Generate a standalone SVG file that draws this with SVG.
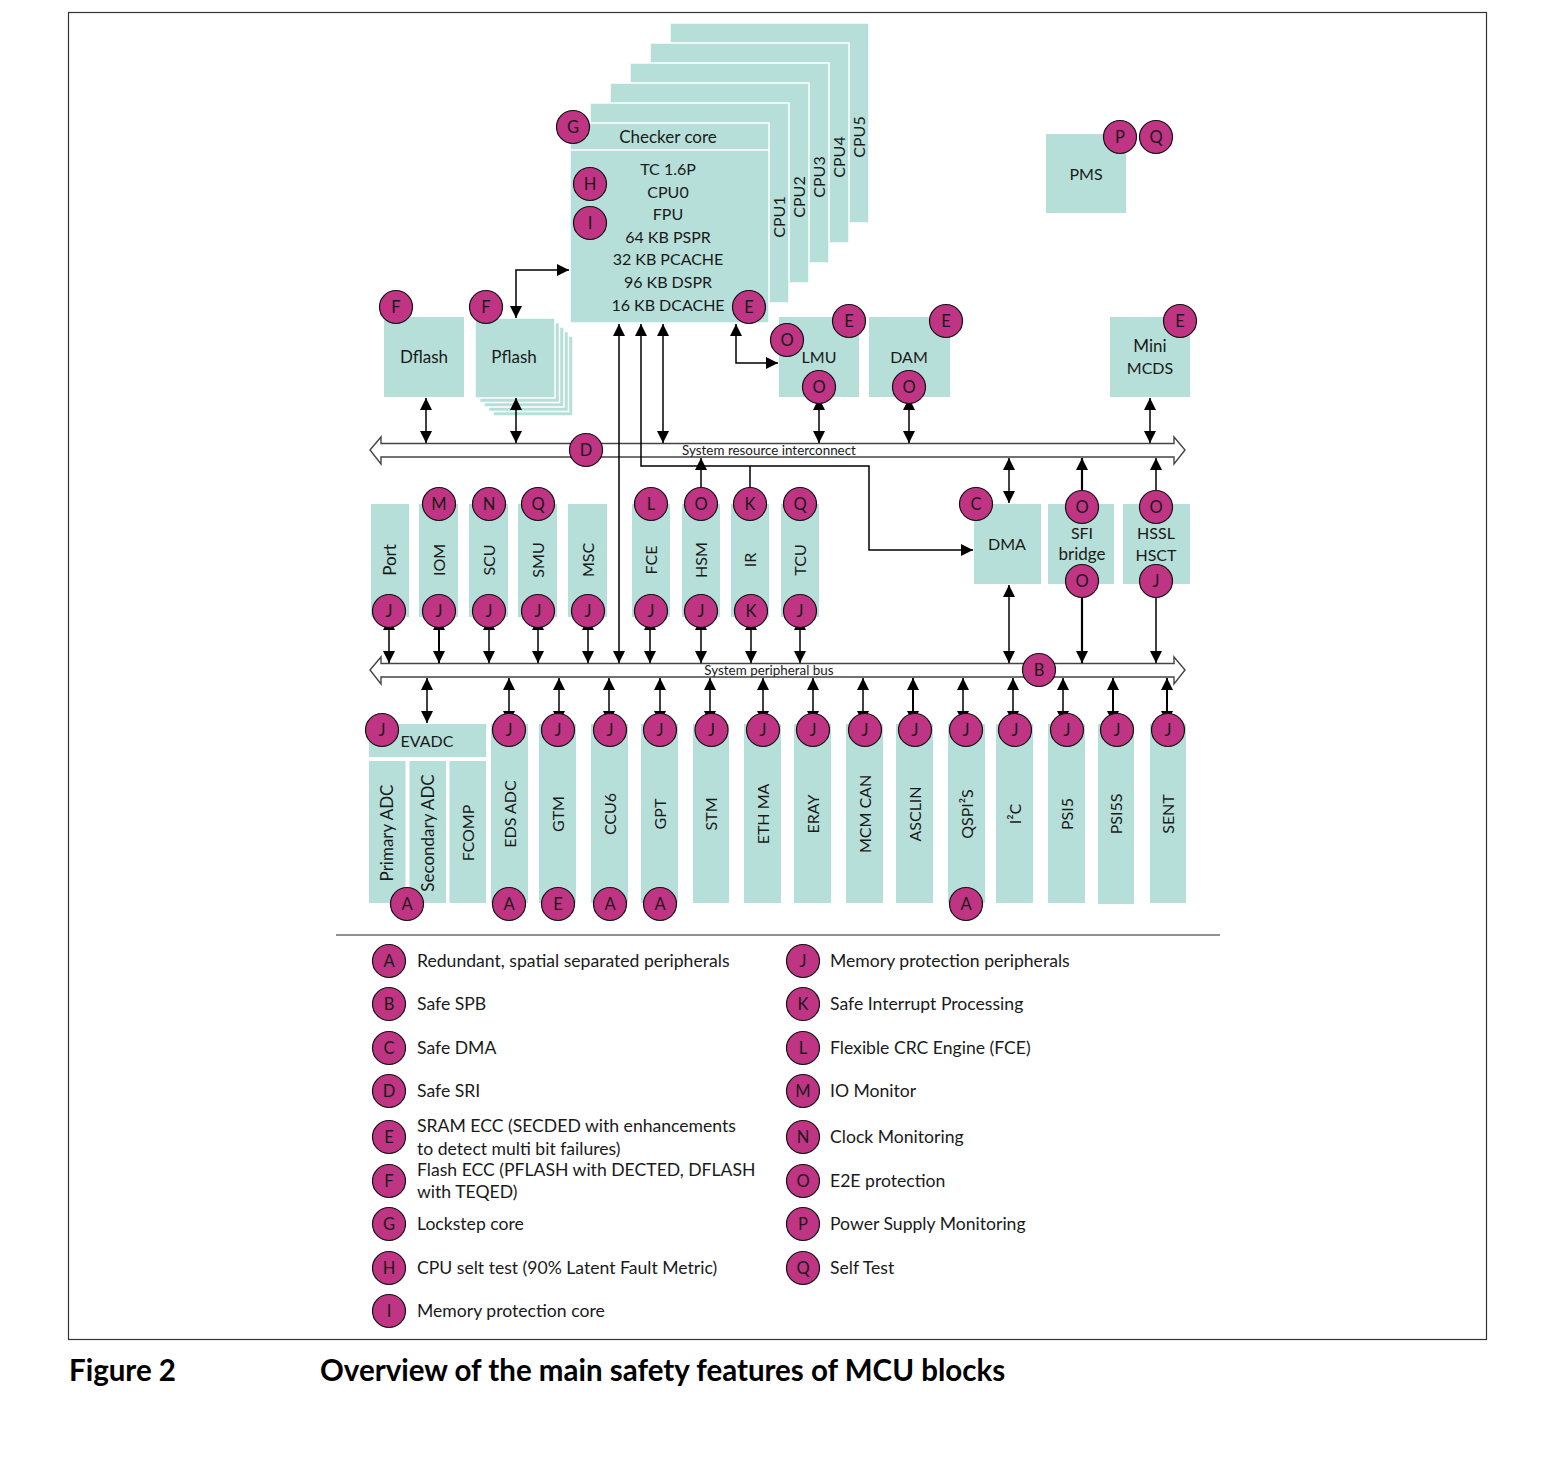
<svg xmlns="http://www.w3.org/2000/svg" width="1555" height="1474" viewBox="0 0 1555 1474">
<style>
text{font-family:Lato,"Open Sans","Liberation Sans",sans-serif;fill:#1a1a1a}
.t{font-size:16px;text-anchor:middle}
.m{font-size:17px}
.b{fill:#b6dfd9}
.bw{fill:#b6dfd9;stroke:#fff;stroke-width:1.5}
.c circle{fill:#bf3483;stroke:#111;stroke-width:1.2}
.c text{font-size:16.5px;text-anchor:middle}
.bus{fill:#fff;stroke:#444;stroke-width:1.4}
.bl{font-size:13.4px;text-anchor:middle}
.cn path{fill:none;stroke:#000;stroke-width:1.5}
.lg{font-size:17.6px}
.cap{font-size:29.5px;font-weight:bold;fill:#000}
</style>
<defs>
<marker id="a" viewBox="0 0 12 12" refX="12" refY="6" markerWidth="12" markerHeight="12" markerUnits="userSpaceOnUse" orient="auto-start-reverse"><path d="M0,0 L12,6 L0,12 z" fill="#000"/></marker>
</defs>
<rect x="68.5" y="12.5" width="1418" height="1327" fill="#fff" stroke="#333" stroke-width="1.2"/>

<!-- buses -->
<g id="sri">
<polygon class="bus" points="370,450 381,437 381,443.5 1174,443.5 1174,437 1185,450 1174,464 1174,457 381,457 381,464"/>
<text class="bl" x="769" y="455">System resource interconnect</text>
</g>
<g id="spb">
<polygon class="bus" points="370,670 381,657 381,663.5 1174,663.5 1174,657 1185,670 1174,684 1174,677 381,677 381,684"/>
<text class="bl" x="769" y="675">System peripheral bus</text>
</g>

<g id="pflash">
<rect class="bw" x="493" y="336" width="80" height="80"/>
<rect class="bw" x="488.5" y="331.5" width="80" height="80"/>
<rect class="bw" x="484" y="327" width="80" height="80"/>
<rect class="bw" x="479.5" y="322.5" width="80" height="80"/>
<rect class="bw" x="475" y="318" width="80" height="80"/>
<text class="t m" x="514" y="363">Pflash</text>
<g class="c"><circle cx="486" cy="307" r="16.5"/><text x="486" y="313">F</text></g>
</g>

<!-- connectors -->
<g id="connectors" class="cn">
<path d="M516,318 V270 H569" marker-start="url(#a)" marker-end="url(#a)"/>
<path d="M426,398 V443" marker-start="url(#a)" marker-end="url(#a)"/>
<path d="M516,398 V443" marker-start="url(#a)" marker-end="url(#a)"/>
<path d="M619,324 V663" marker-start="url(#a)" marker-end="url(#a)"/>
<path d="M641,324 V466 H869 V550 H973" marker-start="url(#a)" marker-end="url(#a)"/>
<path d="M663,324 V443" marker-start="url(#a)" marker-end="url(#a)"/>
<path d="M736,324 V363 H778" marker-start="url(#a)" marker-end="url(#a)"/>
<path d="M750,466 V490"/>
<path d="M701,490 V458" marker-end="url(#a)"/>
<path d="M819,398 V443" marker-start="url(#a)" marker-end="url(#a)"/>
<path d="M909,398 V443" marker-start="url(#a)" marker-end="url(#a)"/>
<path d="M1150,398 V443" marker-start="url(#a)" marker-end="url(#a)"/>
<path d="M1009,458 V503" marker-start="url(#a)" marker-end="url(#a)"/>
<path d="M1082,490 V458" marker-end="url(#a)" style="stroke-width:2.2"/>
<path d="M1156,490 V458" marker-end="url(#a)"/>
<path d="M1009,585 V663" marker-start="url(#a)" marker-end="url(#a)"/>
<path d="M1082,597 V663" marker-end="url(#a)" style="stroke-width:2.2"/>
<path d="M1156,597 V663" marker-end="url(#a)"/>
<path d="M389,618 V663" marker-start="url(#a)" marker-end="url(#a)"/>
<path d="M439,618 V663" marker-start="url(#a)" marker-end="url(#a)" style="stroke-width:2"/>
<path d="M489,618 V663" marker-start="url(#a)" marker-end="url(#a)"/>
<path d="M538,618 V663" marker-start="url(#a)" marker-end="url(#a)"/>
<path d="M588,618 V663" marker-start="url(#a)" marker-end="url(#a)"/>
<path d="M650,618 V663" marker-start="url(#a)" marker-end="url(#a)"/>
<path d="M701,618 V663" marker-start="url(#a)" marker-end="url(#a)"/>
<path d="M751,618 V663" marker-start="url(#a)" marker-end="url(#a)"/>
<path d="M800,618 V663" marker-start="url(#a)" marker-end="url(#a)"/>
<path d="M427,678 V723" marker-start="url(#a)" marker-end="url(#a)"/>
<path d="M509,678 V723" marker-start="url(#a)" marker-end="url(#a)"/>
<path d="M559,678 V723" marker-start="url(#a)" marker-end="url(#a)"/>
<path d="M609,678 V723" marker-start="url(#a)" marker-end="url(#a)"/>
<path d="M660,678 V723" marker-start="url(#a)" marker-end="url(#a)"/>
<path d="M710,678 V723" marker-start="url(#a)" marker-end="url(#a)"/>
<path d="M763,678 V723" marker-start="url(#a)" marker-end="url(#a)"/>
<path d="M813,678 V723" marker-start="url(#a)" marker-end="url(#a)"/>
<path d="M863,678 V723" marker-start="url(#a)" marker-end="url(#a)"/>
<path d="M913,678 V723" marker-start="url(#a)" marker-end="url(#a)" style="stroke-width:2"/>
<path d="M963,678 V723" marker-start="url(#a)" marker-end="url(#a)"/>
<path d="M1013,678 V723" marker-start="url(#a)" marker-end="url(#a)"/>
<path d="M1063,678 V723" marker-start="url(#a)" marker-end="url(#a)"/>
<path d="M1113,678 V723" marker-start="url(#a)" marker-end="url(#a)" style="stroke-width:2"/>
<path d="M1167,678 V723" marker-start="url(#a)" marker-end="url(#a)" style="stroke-width:2"/>
</g>

<!-- bus badges -->
<g class="c"><circle cx="586" cy="450" r="16.5"/><text x="586" y="456">D</text></g>
<g class="c"><circle cx="1039" cy="670" r="16.5"/><text x="1039" y="676">B</text></g>

<!-- CPU stack -->
<g id="cpu-stack">
<rect class="bw" x="670" y="23" width="199" height="200"/>
<text class="t" transform="translate(859,137) rotate(-90)" dy="6">CPU5</text>
<rect class="bw" x="650" y="43" width="199" height="200"/>
<text class="t" transform="translate(839,157) rotate(-90)" dy="6">CPU4</text>
<rect class="bw" x="630" y="63" width="199" height="200"/>
<text class="t" transform="translate(819,177) rotate(-90)" dy="6">CPU3</text>
<rect class="bw" x="610" y="83" width="199" height="200"/>
<text class="t" transform="translate(799,197) rotate(-90)" dy="6">CPU2</text>
<rect class="bw" x="590" y="103" width="199" height="200"/>
<text class="t" transform="translate(779,217) rotate(-90)" dy="6">CPU1</text>
<rect class="bw" x="570" y="123" width="199" height="200"/>
<line x1="570" y1="150" x2="769" y2="150" stroke="#fff" stroke-width="1.5"/>
<text class="t m" x="668" y="143">Checker core</text>
<text class="t" x="668" y="175">TC 1.6P</text>
<text class="t" x="668" y="198">CPU0</text>
<text class="t" x="668" y="220">FPU</text>
<text class="t" x="668" y="243">64 KB PSPR</text>
<text class="t" x="668" y="265">32 KB PCACHE</text>
<text class="t" x="668" y="288">96 KB DSPR</text>
<text class="t" x="668" y="311">16 KB DCACHE</text>
<g class="c"><circle cx="573" cy="127" r="16.5"/><text x="573" y="133">G</text></g>
<g class="c"><circle cx="590" cy="184" r="16.5"/><text x="590" y="190">H</text></g>
<g class="c"><circle cx="590" cy="223" r="16.5"/><text x="590" y="229">I</text></g>
<g class="c"><circle cx="749" cy="307" r="16.5"/><text x="749" y="313">E</text></g>
</g>

<g id="pms">
<rect class="b" x="1046" y="134" width="80" height="79"/>
<text class="t" x="1086" y="180">PMS</text>
<g class="c"><circle cx="1120" cy="137" r="16.5"/><text x="1120" y="143">P</text></g>
<g class="c"><circle cx="1156" cy="137" r="16.5"/><text x="1156" y="143">Q</text></g>
</g>

<g id="dflash">
<rect class="b" x="384" y="317" width="80" height="80"/>
<text class="t m" x="424" y="363">Dflash</text>
<g class="c"><circle cx="396" cy="307" r="16.5"/><text x="396" y="313">F</text></g>
</g>
<g id="lmu">
<rect class="b" x="779" y="317" width="80" height="80"/>
<text class="t" x="819" y="363">LMU</text>
<g class="c"><circle cx="849" cy="321" r="16.5"/><text x="849" y="327">E</text></g>
<g class="c"><circle cx="787" cy="340" r="16.5"/><text x="787" y="346">O</text></g>
<g class="c"><circle cx="819" cy="387" r="16.5"/><text x="819" y="393">O</text></g>
</g>
<g id="dam">
<rect class="b" x="869" y="317" width="81" height="80"/>
<text class="t" x="909" y="363">DAM</text>
<g class="c"><circle cx="946" cy="321" r="16.5"/><text x="946" y="327">E</text></g>
<g class="c"><circle cx="909" cy="387" r="16.5"/><text x="909" y="393">O</text></g>
</g>
<g id="mcds">
<rect class="b" x="1110" y="317" width="80" height="80"/>
<text class="t m" x="1150" y="352">Mini</text>
<text class="t" x="1150" y="374">MCDS</text>
<g class="c"><circle cx="1180" cy="321" r="16.5"/><text x="1180" y="327">E</text></g>
</g>

<!-- middle peripherals -->
<g id="port"><rect class="b" x="371" y="504" width="38" height="113"/>
<text class="t m" transform="translate(390,560) rotate(-90)" dy="6">Port</text>
<g class="c"><circle cx="389" cy="611" r="16.5"/><text x="389" y="617">J</text></g></g>
<g id="iom"><rect class="b" x="419" y="504" width="39" height="113"/>
<text class="t" transform="translate(438.5,560) rotate(-90)" dy="6">IOM</text>
<g class="c"><circle cx="439" cy="504" r="16.5"/><text x="439" y="510">M</text></g>
<g class="c"><circle cx="439" cy="611" r="16.5"/><text x="439" y="617">J</text></g></g>
<g id="scu"><rect class="b" x="469" y="504" width="39" height="113"/>
<text class="t" transform="translate(488.5,560) rotate(-90)" dy="6">SCU</text>
<g class="c"><circle cx="489" cy="504" r="16.5"/><text x="489" y="510">N</text></g>
<g class="c"><circle cx="489" cy="611" r="16.5"/><text x="489" y="617">J</text></g></g>
<g id="smu"><rect class="b" x="518" y="504" width="39" height="113"/>
<text class="t" transform="translate(537.5,560) rotate(-90)" dy="6">SMU</text>
<g class="c"><circle cx="538" cy="504" r="16.5"/><text x="538" y="510">Q</text></g>
<g class="c"><circle cx="538" cy="611" r="16.5"/><text x="538" y="617">J</text></g></g>
<g id="msc"><rect class="b" x="568" y="504" width="39" height="113"/>
<text class="t" transform="translate(587.5,560) rotate(-90)" dy="6">MSC</text>
<g class="c"><circle cx="588" cy="611" r="16.5"/><text x="588" y="617">J</text></g></g>
<g id="fce"><rect class="b" x="632" y="504" width="38" height="113"/>
<text class="t" transform="translate(651,560) rotate(-90)" dy="6">FCE</text>
<g class="c"><circle cx="651" cy="504" r="16.5"/><text x="651" y="510">L</text></g>
<g class="c"><circle cx="651" cy="611" r="16.5"/><text x="651" y="617">J</text></g></g>
<g id="hsm"><rect class="b" x="682" y="504" width="38" height="113"/>
<text class="t" transform="translate(701,560) rotate(-90)" dy="6">HSM</text>
<g class="c"><circle cx="701" cy="504" r="16.5"/><text x="701" y="510">O</text></g>
<g class="c"><circle cx="701" cy="611" r="16.5"/><text x="701" y="617">J</text></g></g>
<g id="ir"><rect class="b" x="731" y="504" width="38" height="113"/>
<text class="t" transform="translate(750,560) rotate(-90)" dy="6">IR</text>
<g class="c"><circle cx="750" cy="504" r="16.5"/><text x="750" y="510">K</text></g>
<g class="c"><circle cx="751" cy="611" r="16.5"/><text x="751" y="617">K</text></g></g>
<g id="tcu"><rect class="b" x="781" y="504" width="38" height="113"/>
<text class="t" transform="translate(800,560) rotate(-90)" dy="6">TCU</text>
<g class="c"><circle cx="800" cy="504" r="16.5"/><text x="800" y="510">Q</text></g>
<g class="c"><circle cx="800" cy="611" r="16.5"/><text x="800" y="617">J</text></g></g>

<g id="dma"><rect class="b" x="974" y="504" width="67" height="80"/>
<text class="t" x="1007" y="550">DMA</text>
<g class="c"><circle cx="976" cy="504" r="16.5"/><text x="976" y="510">C</text></g></g>
<g id="sfi"><rect class="b" x="1048" y="504" width="66" height="80"/>
<text class="t" x="1082" y="539">SFI</text>
<text class="t m" x="1082" y="560">bridge</text>
<g class="c"><circle cx="1082" cy="507" r="16.5"/><text x="1082" y="513">O</text></g>
<g class="c"><circle cx="1082" cy="581" r="16.5"/><text x="1082" y="587">O</text></g></g>
<g id="hssl"><rect class="b" x="1123" y="504" width="67" height="80"/>
<text class="t" x="1156" y="539">HSSL</text>
<text class="t" x="1156" y="561">HSCT</text>
<g class="c"><circle cx="1156" cy="507" r="16.5"/><text x="1156" y="513">O</text></g>
<g class="c"><circle cx="1156" cy="581" r="16.5"/><text x="1156" y="587">J</text></g></g>

<!-- bottom peripherals -->
<g id="evadc">
<rect class="b" x="369" y="724" width="117" height="33"/>
<text class="t" x="427" y="747">EVADC</text>
<rect class="b" x="369" y="761" width="36.5" height="142"/>
<rect class="b" x="409.5" y="761" width="36.5" height="142"/>
<rect class="b" x="449.5" y="761" width="36.5" height="142"/>
<text class="t m" transform="translate(387,833) rotate(-90)" dy="6">Primary ADC</text>
<text class="t m" transform="translate(428,833) rotate(-90)" dy="6">Secondary ADC</text>
<text class="t" transform="translate(467.5,833) rotate(-90)" dy="6">FCOMP</text>
<g class="c"><circle cx="382" cy="730" r="16.5"/><text x="382" y="736">J</text></g>
<g class="c"><circle cx="407" cy="904" r="16.5"/><text x="407" y="910">A</text></g>
</g>
<g id="edsadc"><rect class="b" x="491" y="724" width="37" height="179"/>
<text class="t" transform="translate(509.5,814) rotate(-90)" dy="6">EDS ADC</text>
<g class="c"><circle cx="509" cy="730" r="16.5"/><text x="509" y="736">J</text></g>
<g class="c"><circle cx="509" cy="904" r="16.5"/><text x="509" y="910">A</text></g></g>
<g id="gtm"><rect class="b" x="539" y="724" width="37" height="179"/>
<text class="t" transform="translate(557.5,814) rotate(-90)" dy="6">GTM</text>
<g class="c"><circle cx="558" cy="730" r="16.5"/><text x="558" y="736">J</text></g>
<g class="c"><circle cx="558" cy="904" r="16.5"/><text x="558" y="910">E</text></g></g>
<g id="ccu6"><rect class="b" x="591" y="724" width="37" height="179"/>
<text class="t" transform="translate(609.5,814) rotate(-90)" dy="6">CCU6</text>
<g class="c"><circle cx="610" cy="730" r="16.5"/><text x="610" y="736">J</text></g>
<g class="c"><circle cx="610" cy="904" r="16.5"/><text x="610" y="910">A</text></g></g>
<g id="gpt"><rect class="b" x="641" y="724" width="37" height="179"/>
<text class="t" transform="translate(659.5,814) rotate(-90)" dy="6">GPT</text>
<g class="c"><circle cx="660" cy="730" r="16.5"/><text x="660" y="736">J</text></g>
<g class="c"><circle cx="660" cy="904" r="16.5"/><text x="660" y="910">A</text></g></g>
<g id="stm"><rect class="b" x="693" y="724" width="36" height="179"/>
<text class="t" transform="translate(711,814) rotate(-90)" dy="6">STM</text>
<g class="c"><circle cx="711.5" cy="730" r="16.5"/><text x="711.5" y="736">J</text></g></g>
<g id="ethma"><rect class="b" x="744" y="724" width="37" height="179"/>
<text class="t" transform="translate(762.5,814) rotate(-90)" dy="6">ETH MA</text>
<g class="c"><circle cx="763" cy="730" r="16.5"/><text x="763" y="736">J</text></g></g>
<g id="eray"><rect class="b" x="794" y="724" width="37" height="179"/>
<text class="t" transform="translate(812.5,814) rotate(-90)" dy="6">ERAY</text>
<g class="c"><circle cx="813" cy="730" r="16.5"/><text x="813" y="736">J</text></g></g>
<g id="mcmcan"><rect class="b" x="846" y="724" width="37" height="179"/>
<text class="t" transform="translate(864.5,814) rotate(-90)" dy="6">MCM CAN</text>
<g class="c"><circle cx="865" cy="730" r="16.5"/><text x="865" y="736">J</text></g></g>
<g id="asclin"><rect class="b" x="896" y="724" width="37" height="179"/>
<text class="t" transform="translate(914.5,814) rotate(-90)" dy="6">ASCLIN</text>
<g class="c"><circle cx="915" cy="730" r="16.5"/><text x="915" y="736">J</text></g></g>
<g id="qspi"><rect class="b" x="948" y="724" width="37" height="179"/>
<text class="t" transform="translate(966.5,814) rotate(-90)" dy="6">QSPI²S</text>
<g class="c"><circle cx="966" cy="730" r="16.5"/><text x="966" y="736">J</text></g>
<g class="c"><circle cx="966" cy="904" r="16.5"/><text x="966" y="910">A</text></g></g>
<g id="i2c"><rect class="b" x="996" y="724" width="37" height="179"/>
<text class="t" transform="translate(1014.5,814) rotate(-90)" dy="6">I²C</text>
<g class="c"><circle cx="1015" cy="730" r="16.5"/><text x="1015" y="736">J</text></g></g>
<g id="psi5"><rect class="b" x="1048" y="724" width="37" height="179"/>
<text class="t" transform="translate(1066.5,814) rotate(-90)" dy="6">PSI5</text>
<g class="c"><circle cx="1067" cy="730" r="16.5"/><text x="1067" y="736">J</text></g></g>
<g id="psi5s"><rect class="b" x="1098" y="724" width="36" height="180"/>
<text class="t" transform="translate(1116,814) rotate(-90)" dy="6">PSI5S</text>
<g class="c"><circle cx="1117" cy="730" r="16.5"/><text x="1117" y="736">J</text></g></g>
<g id="sent"><rect class="b" x="1150" y="724" width="36" height="179"/>
<text class="t" transform="translate(1168,814) rotate(-90)" dy="6">SENT</text>
<g class="c"><circle cx="1168" cy="730" r="16.5"/><text x="1168" y="736">J</text></g></g>

<line x1="336" y1="935" x2="1220" y2="935" stroke="#222" stroke-width="1"/>

<!-- legend -->
<g id="legend">
<g class="c"><circle cx="389" cy="961" r="16.5"/><text x="389" y="967">A</text></g>
<text class="lg" x="417" y="967">Redundant, spatial separated peripherals</text>
<g class="c"><circle cx="389" cy="1004" r="16.5"/><text x="389" y="1010">B</text></g>
<text class="lg" x="417" y="1010">Safe SPB</text>
<g class="c"><circle cx="389" cy="1048" r="16.5"/><text x="389" y="1054">C</text></g>
<text class="lg" x="417" y="1054">Safe DMA</text>
<g class="c"><circle cx="389" cy="1091" r="16.5"/><text x="389" y="1097">D</text></g>
<text class="lg" x="417" y="1097">Safe SRI</text>
<g class="c"><circle cx="389" cy="1137" r="16.5"/><text x="389" y="1143">E</text></g>
<text class="lg" x="417" y="1132">SRAM ECC (SECDED with enhancements</text>
<text class="lg" x="417" y="1155">to detect multi bit failures)</text>
<g class="c"><circle cx="389" cy="1181" r="16.5"/><text x="389" y="1187">F</text></g>
<text class="lg" x="417" y="1176">Flash ECC (PFLASH with DECTED, DFLASH</text>
<text class="lg" x="417" y="1198">with TEQED)</text>
<g class="c"><circle cx="389" cy="1224" r="16.5"/><text x="389" y="1230">G</text></g>
<text class="lg" x="417" y="1230">Lockstep core</text>
<g class="c"><circle cx="389" cy="1268" r="16.5"/><text x="389" y="1274">H</text></g>
<text class="lg" x="417" y="1274">CPU selt test (90% Latent Fault Metric)</text>
<g class="c"><circle cx="389" cy="1311" r="16.5"/><text x="389" y="1317">I</text></g>
<text class="lg" x="417" y="1317">Memory protection core</text>

<g class="c"><circle cx="803" cy="961" r="16.5"/><text x="803" y="967">J</text></g>
<text class="lg" x="830" y="967">Memory protection peripherals</text>
<g class="c"><circle cx="803" cy="1004" r="16.5"/><text x="803" y="1010">K</text></g>
<text class="lg" x="830" y="1010">Safe Interrupt Processing</text>
<g class="c"><circle cx="803" cy="1048" r="16.5"/><text x="803" y="1054">L</text></g>
<text class="lg" x="830" y="1054">Flexible CRC Engine (FCE)</text>
<g class="c"><circle cx="803" cy="1091" r="16.5"/><text x="803" y="1097">M</text></g>
<text class="lg" x="830" y="1097">IO Monitor</text>
<g class="c"><circle cx="803" cy="1137" r="16.5"/><text x="803" y="1143">N</text></g>
<text class="lg" x="830" y="1143">Clock Monitoring</text>
<g class="c"><circle cx="803" cy="1181" r="16.5"/><text x="803" y="1187">O</text></g>
<text class="lg" x="830" y="1187">E2E protection</text>
<g class="c"><circle cx="803" cy="1224" r="16.5"/><text x="803" y="1230">P</text></g>
<text class="lg" x="830" y="1230">Power Supply Monitoring</text>
<g class="c"><circle cx="803" cy="1268" r="16.5"/><text x="803" y="1274">Q</text></g>
<text class="lg" x="830" y="1274">Self Test</text>
</g>

<g id="caption">
<text class="cap" x="69" y="1381">Figure 2</text>
<text class="cap" x="320" y="1381">Overview of the main safety features of MCU blocks</text>
</g>
</svg>
